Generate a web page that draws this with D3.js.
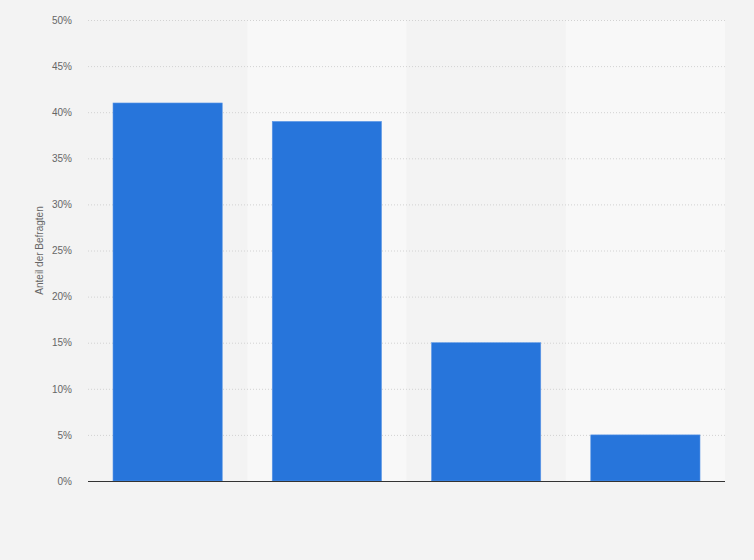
<!DOCTYPE html>
<html>
<head>
<meta charset="utf-8">
<script src="https://cdn.jsdelivr.net/npm/d3@7"></script>
<style>
  html, body { margin: 0; padding: 0; background: #f3f3f3; }
  svg { display: block; font-family: "Liberation Sans", Arial, sans-serif; }
</style>
</head>
<body>
<svg id="chart" width="754" height="560"></svg>
<script>
// values
const categories = ['A', 'B', 'C', 'D'];
const shares = [41, 39, 15, 5];
const yTicks = [0, 5, 10, 15, 20, 25, 30, 35, 40, 45, 50];
const yTitle = 'Anteil der Befragten';

const W = 754, H = 560;
const margin = { top: 20, right: 29, bottom: 79, left: 88 };
const iw = W - margin.left - margin.right;
const ih = H - margin.top - margin.bottom;

const svg = d3.select('#chart');
svg.append('rect').attr('width', W).attr('height', H).attr('fill', '#f3f3f3');

const g = svg.append('g').attr('transform', `translate(${margin.left},${margin.top})`);

const band = d3.scaleBand().domain(categories).range([0, iw]);
const x = d3.scaleBand().domain(categories).range([0, iw]).paddingInner(0.314).paddingOuter(0.157);
const y = d3.scaleLinear().domain([0, 50]).range([ih, 0]);

// alternating column bands
g.selectAll('rect.band')
  .data(categories.filter((d, i) => i % 2 === 1))
  .enter().append('rect')
  .attr('class', 'band')
  .attr('x', d => band(d))
  .attr('y', 0)
  .attr('width', band.bandwidth())
  .attr('height', ih)
  .attr('fill', '#f8f8f8');

// gridlines
g.selectAll('line.grid')
  .data(yTicks.filter(t => t > 0))
  .enter().append('line')
  .attr('class', 'grid')
  .attr('x1', 0).attr('x2', iw)
  .attr('y1', d => y(d) + 0.5).attr('y2', d => y(d) + 0.5)
  .attr('stroke', '#d2d2d2')
  .attr('stroke-width', 1)
  .attr('stroke-dasharray', '1,2');

// bars
g.selectAll('rect.bar')
  .data(shares)
  .enter().append('rect')
  .attr('class', 'bar')
  .attr('x', (d, i) => x(categories[i]))
  .attr('y', d => y(d))
  .attr('width', x.bandwidth())
  .attr('height', d => ih - y(d))
  .attr('fill', '#2775db')
  .attr('stroke', '#5c97e6')
  .attr('stroke-width', 0.6);

// baseline
g.append('line')
  .attr('x1', 0).attr('x2', iw)
  .attr('y1', ih + 0.5).attr('y2', ih + 0.5)
  .attr('stroke', '#333')
  .attr('stroke-width', 1.2);

// y axis labels
const yAxis = d3.axisLeft(y).tickValues(yTicks).tickSize(0).tickPadding(16).tickFormat(d => d + '%');
g.append('g').call(yAxis)
  .call(a => a.select('.domain').remove())
  .selectAll('text')
  .attr('fill', '#666')
  .attr('font-size', 10)
  .attr('font-family', '"Liberation Sans", Arial, sans-serif');

// y title
svg.append('text')
  .attr('transform', `translate(43,${margin.top + ih / 2}) rotate(-90)`)
  .attr('text-anchor', 'middle')
  .attr('fill', '#666')
  .attr('font-size', 10)
  .text(yTitle);
</script>
</body>
</html>
